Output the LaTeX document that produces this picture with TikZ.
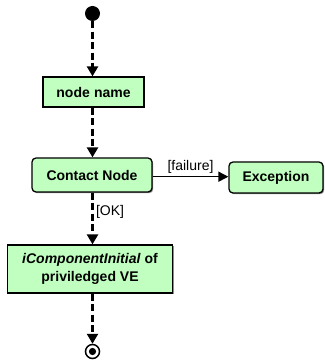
\documentclass[tikz,border=0pt]{standalone}
\usepackage{fontspec}
\setmainfont{Liberation Sans}
\usetikzlibrary{arrows.meta,shadows}
\definecolor{actfill}{HTML}{C0FFC0}
\tikzset{
  actbox/.style={draw=black, line width=1.3pt, fill=actfill,
    drop shadow={shadow xshift=1.2pt, shadow yshift=-1.2pt, fill=black!45, opacity=1},
    font=\fontsize{14}{18}\selectfont\bfseries, inner sep=0pt, align=center},
  actround/.style={actbox, rounded corners=4pt},
  flowdash/.style={line width=3pt, dash pattern=on 7pt off 3.5pt,
    -{Triangle[length=10pt,width=11pt]}},
  flowsolid/.style={line width=1.5pt, -{Triangle[length=10pt,width=10pt]}},
  guard/.style={font=\fontsize{14}{16}\selectfont, inner sep=0pt},
}
\begin{document}
\begin{tikzpicture}[x=1pt,y=-1pt]
\useasboundingbox (0,0) rectangle (324,363);
% start and end markers
\node[circle, fill=black, minimum size=15pt, inner sep=0pt] (start) at (92.5,13.5) {};
\node[circle, draw=black, line width=1.5pt, fill=white, minimum size=14pt, inner sep=0pt] (end) at (92.5,351.5) {};
\fill[black] (end.center) circle (3.6pt);
% activity nodes
\node[actbox, minimum width=101pt, minimum height=30pt] (name) at (93.5,92) {node\hspace{0.3em}name};
\node[actround, minimum width=120pt, minimum height=34pt] (contact) at (92,175) {Contact Node};
\node[actround, minimum width=94pt, minimum height=31pt] (exc) at (276,177.5) {Exception};
\node[actbox, minimum width=165pt, minimum height=48pt] (init) at (90,269)
  {\textit{iComponentInitial} of\\priviledged VE};
% control flows
\draw[flowdash] (start.south) -- (start.south |- name.north);
\draw[flowdash] (name.south -| start) -- (contact.north -| start);
\draw[flowdash] (contact.south -| start) -- (init.north -| start)
  node[guard, pos=0.38, anchor=west, xshift=2pt] (ok) {[OK]};
\draw[flowdash] (init.south -| start) -- (end.north);
\draw[flowsolid] (contact.east |- 0,176.7) -- (exc.west |- 0,176.7)
  node[guard, midway, above=3pt] (fail) {[failure]};
\end{tikzpicture}
\end{document}
